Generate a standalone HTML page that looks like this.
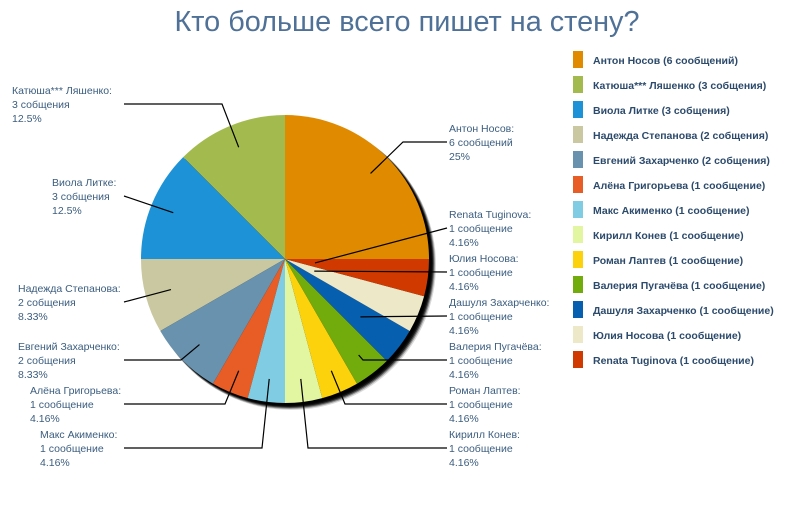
<!DOCTYPE html>
<html><head><meta charset="utf-8">
<style>
body{margin:0;background:#fff;width:800px;height:500px;overflow:hidden;font-family:"Liberation Sans","DejaVu Sans",sans-serif;}
svg text{font-family:"Liberation Sans","DejaVu Sans",sans-serif;}
</style></head>
<body>
<svg id="chart" width="800" height="500" viewBox="0 0 800 500" xmlns="http://www.w3.org/2000/svg">
<text x="407" y="31" text-anchor="middle" font-size="29" fill="#4f7197" textLength="465" lengthAdjust="spacingAndGlyphs">Кто больше всего пишет на стену?</text>
<g>
<circle cx="291" cy="265" r="145" fill="#000" opacity="0.15"/>
<circle cx="290" cy="264" r="145" fill="#000" opacity="0.3"/>
<circle cx="289.5" cy="263.5" r="144.5" fill="#000" opacity="0.5"/>
<circle cx="289" cy="263" r="144" fill="#000" opacity="0.7"/>
<circle cx="288" cy="262" r="144" fill="#000" opacity="0.8"/>
<circle cx="287" cy="261" r="144" fill="#000" opacity="0.9"/>
</g>
<g id="pie"></g>
<g id="leaders"></g>
<g id="labels"></g>
<g id="legend"></g>
</svg>
<script>
const names = ["Антон Носов","Катюша*** Ляшенко","Виола Литке","Надежда Степанова","Евгений Захарченко","Алёна Григорьева","Макс Акименко","Кирилл Конев","Роман Лаптев","Валерия Пугачёва","Дашуля Захарченко","Юлия Носова","Renata Tuginova"];
const counts = [6,3,3,2,2,1,1,1,1,1,1,1,1];
const countWords = ["сообщений","собщения","собщения","собщения","собщения","сообщение","сообщение","сообщение","сообщение","сообщение","сообщение","сообщение","сообщение"];
const percentLabels = ["25%","12.5%","12.5%","8.33%","8.33%","4.16%","4.16%","4.16%","4.16%","4.16%","4.16%","4.16%","4.16%"];
const colors = ["#e08a00","#a3bb4e","#1e92d6","#c9c8a0","#6892ae","#e85c25","#80cde3","#e2f5a0","#fcd20c","#72ac0c","#075fb0","#ece8c8","#d03a00"];

// layout (not data): label block x, first baseline y, side, elbow x, inner radius ratio
const layout = [
 {x:449,y:132,side:"r",elbow:403,rr:0.84},
 {x:12,y:94,side:"l",elbow:222,rr:0.84},
 {x:52,y:186,side:"l",elbow:null,rr:0.84},
 {x:18,y:292,side:"l",elbow:null,rr:0.82},
 {x:18,y:350,side:"l",elbow:181,rr:0.84},
 {x:30,y:394,side:"l",elbow:225,rr:0.84},
 {x:40,y:438,side:"l",elbow:262,rr:0.84},
 {x:449,y:438,side:"r",elbow:308,rr:0.84},
 {x:449,y:394,side:"r",elbow:345,rr:0.84},
 {x:449,y:350,side:"r",elbow:363,rr:0.84},
 {x:449,y:306,side:"r",elbow:null,rr:0.66},
 {x:449,y:262,side:"r",elbow:null,rr:0.22},
 {x:449,y:218,side:"r",elbow:null,rr:0.21}
];
const NS="http://www.w3.org/2000/svg";
const cx=285, cy=259, R=144;
const total = counts.reduce((a,b)=>a+b,0);
function pt(a,r){return [cx+r*Math.cos(a), cy-r*Math.sin(a)];}
const pie=document.getElementById('pie'), leaders=document.getElementById('leaders'), labels=document.getElementById('labels'), legend=document.getElementById('legend');
let acc=0;
counts.forEach((c,i)=>{
  const a0=acc/total*2*Math.PI; acc+=c; const a1=acc/total*2*Math.PI;
  const p0=pt(a0,R), p1=pt(a1,R);
  const large=(a1-a0)>Math.PI?1:0;
  const path=document.createElementNS(NS,'path');
  path.setAttribute('d',`M${cx},${cy} L${p0[0]},${p0[1]} A${R},${R} 0 ${large} 0 ${p1[0]},${p1[1]} Z`);
  path.setAttribute('fill',colors[i]);
  
  
  pie.appendChild(path);
  const L=layout[i]; const am=(a0+a1)/2; const ip=pt(am,R*L.rr);
  const ly=L.y+14-4;
  const lx = L.side==="r" ? L.x-2 : 124;
  let pts = L.elbow!==null ? `${lx},${ly} ${L.elbow},${ly} ${ip[0]},${ip[1]}` : `${lx},${ly} ${ip[0]},${ip[1]}`;
  const pl=document.createElementNS(NS,'polyline');
  pl.setAttribute('points',pts); pl.setAttribute('fill','none'); pl.setAttribute('stroke','#000'); pl.setAttribute('stroke-width','1.2');
  
  
  leaders.appendChild(pl);
  const t=document.createElementNS(NS,'text');
  t.setAttribute('font-size','10.5'); t.setAttribute('fill','#3b5d7f');
  
  
  [names[i]+":", c+" "+countWords[i], percentLabels[i]].forEach((s,k)=>{
    const ts=document.createElementNS(NS,'tspan');
    ts.setAttribute('x',L.x); ts.setAttribute('y',L.y+k*14); ts.textContent=s; t.appendChild(ts);
  });
  labels.appendChild(t);
  const ly2=60+i*25;
  const g=document.createElementNS(NS,'g');
  
  
  const r=document.createElementNS(NS,'rect');
  r.setAttribute('x',573); r.setAttribute('y',ly2-9); r.setAttribute('width',10); r.setAttribute('height',17); r.setAttribute('fill',colors[i]);
  
  
  const lt=document.createElementNS(NS,'text');
  lt.setAttribute('x',593); lt.setAttribute('y',ly2+4); lt.setAttribute('font-size','10.5'); lt.setAttribute('font-weight','bold'); lt.setAttribute('fill','#2c4a6b');
  
  
  lt.textContent=names[i]+" ("+c+" "+countWords[i]+")";
  g.appendChild(r); g.appendChild(lt); legend.appendChild(g);
});
</script>
</body></html>
